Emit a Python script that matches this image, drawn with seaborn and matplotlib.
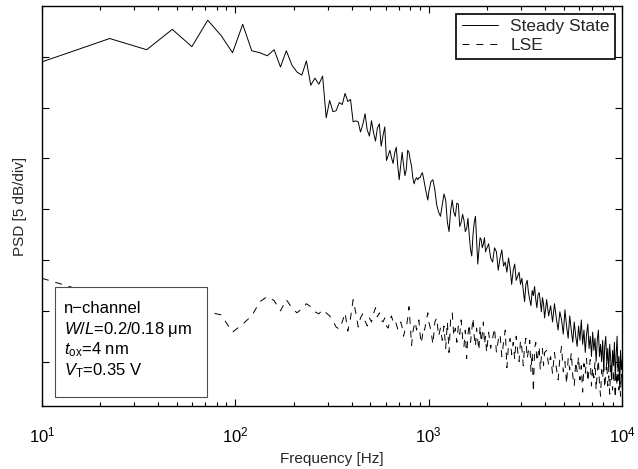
import numpy as np
import pandas as pd
import matplotlib
matplotlib.use("Agg")
import matplotlib.pyplot as plt
import seaborn as sns
from matplotlib.patches import Rectangle
from matplotlib.ticker import LogLocator, NullFormatter, FixedLocator

# --- DATA (y in dB, top of the axes = 0 dB) ---
freq_hz = [
    10, 22.4, 34.8, 47.2, 59.6, 72, 84.4, 96.8, 109.2, 121.6,
    134, 146.4, 158.8, 171.2, 183.6, 196, 208.4, 220.8, 233.2, 245.6,
    258, 270.4, 282.8, 295.2, 307.6, 320, 332.4, 344.8, 357.2, 369.6,
    382, 394.4, 406.8,
    419, 432, 444, 456, 469, 481, 494, 506, 518, 531,
    543, 556, 568, 580, 593, 605, 618, 630, 642, 655,
    667, 680, 692, 704, 717, 729, 742, 754, 766, 779,
    791, 804, 816, 828, 841, 853, 866, 878, 890, 903,
    915, 928, 940, 952, 965, 977, 990, 1002,
    1027, 1052, 1077, 1101, 1126, 1151, 1176, 1200, 1225, 1250,
    1275, 1300, 1324, 1349, 1374, 1399, 1424, 1448, 1473, 1498,
    1523, 1547, 1572, 1597, 1622, 1647, 1671, 1696, 1721, 1746,
    1770, 1795, 1820, 1845, 1870, 1894, 1919, 1944, 1969, 1994,
    2043, 2093, 2142, 2192, 2242, 2291, 2341, 2390, 2440, 2490,
    2539, 2589, 2638, 2688, 2738, 2787, 2837, 2886, 2936, 2986,
    3035, 3085, 3134, 3184, 3234, 3283, 3333, 3382, 3432, 3482,
    3531, 3581, 3630, 3680, 3730, 3779, 3829, 3878, 3928, 3978,
    4077, 4176, 4275, 4374, 4474, 4573, 4672, 4771, 4870, 4970,
    5069, 5168, 5267, 5366, 5466, 5565, 5664, 5763, 5862, 5962,
    6061, 6160, 6259, 6358, 6458, 6557, 6656, 6755, 6854, 6954,
    7053, 7152, 7251, 7350, 7450, 7549, 7648, 7747, 7846, 7946,
    8045, 8144, 8243, 8342, 8442, 8541, 8640, 8739, 8838, 8938,
    9037, 9136, 9235, 9334, 9434, 9533, 9632, 9731, 9830, 9930,
    10029,
]

steady_db = [
    -5.5, -3.2, -4.3, -2.3, -4.0, -1.4, -2.9, -4.6, -1.8, -4.4,
    -4.6, -4.9, -4.3, -6.0, -4.4, -5.8, -6.5, -6.8, -5.4, -7.8,
    -7.1, -7.7, -6.9, -11.0, -9.3, -10.4, -10.3, -9.5, -9.7, -8.6,
    -9.4, -9.2, -11.4,
    -11.3, -11.4, -12.4, -11.7, -10.6, -12.2, -12.8, -11.3, -12.4, -13.3,
    -12.0, -11.6, -13.8, -12.8, -11.9, -15.2, -14.7, -14.2, -14.9, -15.5,
    -14.5, -13.9, -15.7, -17.1, -15.7, -14.4, -15.7, -16.7, -16.1, -14.2,
    -14.4, -15.2, -15.8, -16.9, -17.5, -17.1, -16.9, -17.1, -16.9, -16.9,
    -16.6, -16.4, -16.9, -17.5, -18.1, -18.6, -19.1, -18.3,
    -17.3, -17.1, -18.1, -19.6, -20.3, -20.7, -19.6, -18.5, -19.1, -21.3,
    -22.2, -20.1, -19.1, -20.3, -20.7, -19.4, -19.5, -21.7, -21.3, -20.5,
    -21.1, -22.2, -21.9, -20.9, -22.6, -24.0, -24.6, -22.5, -21.3, -20.7,
    -23.0, -25.4, -24.0, -22.8, -23.0, -23.8, -23.4, -22.8, -24.2, -23.9,
    -23.4, -24.8, -25.2, -23.8, -24.2, -26.0, -24.8, -24.0, -25.6, -25.2,
    -26.2, -24.8, -25.8, -27.4, -26.0, -25.4, -27.0, -26.6, -26.2, -27.4,
    -26.8, -28.0, -29.1, -27.4, -27.0, -28.2, -28.9, -29.5, -28.0, -28.5,
    -27.6, -28.9, -29.7, -28.4, -28.2, -29.1, -30.1, -28.7, -29.3, -30.7,
    -28.9, -30.5, -29.5, -31.1, -29.3, -30.7, -31.9, -30.1, -30.9, -32.3,
    -29.9, -31.5, -32.7, -30.5, -31.9, -33.1, -31.1, -32.5, -33.5, -31.5,
    -32.9, -30.9, -33.3, -31.9, -34.1, -32.3, -31.3, -33.7, -32.5, -34.5,
    -32.1, -33.9, -32.7, -35.0, -32.9, -31.9, -34.5, -33.3, -35.0, -32.9,
    -35.8, -33.5, -32.5, -35.2, -33.7, -36.0, -33.3, -34.8, -36.6, -33.9,
    -35.4, -33.1, -36.8, -34.3, -32.5, -36.0, -34.5, -37.6, -33.9, -35.8,
    -34.8,
]

lse_db = [
    -26.8, -28.8, -29.5, -28.9, -30.1, -30.1, -30.4, -32.1, -31.3, -30.5,
    -29.1, -28.6, -29.0, -30.0, -28.9, -29.7, -30.2, -29.8, -29.3, -29.6,
    -30.1, -30.3, -29.9, -30.2, -30.5, -31.0, -31.6, -31.8, -31.1, -30.2,
    -32.0, -30.7, -28.9,
    -30.1, -31.6, -30.7, -30.3, -31.0, -31.5, -30.7, -31.1, -30.3, -29.7,
    -30.6, -30.2, -30.9, -31.1, -30.7, -31.5, -31.7, -30.9, -30.5, -31.1,
    -30.9, -31.3, -31.8, -31.5, -31.1, -31.6, -32.5, -31.9, -31.7, -30.7,
    -29.6, -31.5, -33.4, -32.1, -31.5, -31.1, -31.9, -31.3, -30.9, -32.3,
    -33.2, -32.5, -31.7, -31.9, -31.3, -30.7, -30.2, -31.1,
    -31.9, -33.3, -31.1, -30.7, -32.5, -31.7, -32.9, -31.5, -33.7, -31.1,
    -34.1, -30.7, -30.2, -32.5, -31.7, -33.1, -31.5, -32.3, -30.9, -32.7,
    -33.5, -31.9, -34.7, -32.3, -31.3, -33.1, -31.9, -30.7, -32.5, -33.5,
    -31.7, -32.9, -33.9, -31.5, -33.1, -32.3, -31.1, -33.3, -32.5, -34.1,
    -32.1, -33.7, -32.7, -31.7, -34.1, -32.9, -32.3, -34.5, -33.1, -31.9,
    -35.6, -33.3, -32.7, -34.3, -33.1, -34.8, -32.5, -33.9, -35.0, -32.9,
    -33.7, -35.4, -33.5, -32.7, -34.7, -33.9, -32.9, -36.0, -34.1, -38.0,
    -33.7, -33.1, -35.0, -34.3, -33.5, -35.8, -34.5, -33.7, -35.4, -34.1,
    -33.9, -35.4, -34.5, -36.2, -34.1, -35.6, -36.8, -34.7, -33.5, -36.0,
    -35.0, -37.2, -34.7, -35.8, -34.1, -36.4, -37.4, -35.0, -36.0, -34.5,
    -36.8, -35.4, -38.0, -35.2, -36.2, -34.7, -37.0, -35.8, -34.8, -37.4,
    -35.6, -36.6, -35.0, -37.8, -36.0, -34.8, -37.2, -38.4, -35.8, -36.6,
    -35.2, -37.6, -36.2, -35.0, -37.4, -36.4, -38.2, -35.4, -36.8, -37.8,
    -35.8, -37.2, -38.6, -36.0, -37.4, -35.2, -37.8, -36.6, -38.4, -36.2,
    -37.2,
]

series_labels = ["Steady State", "LSE"]
y_ticks_db = [-35, -30, -25, -20, -15, -10, -5]
info_lines = [
    "n\u2212channel",
    r"$W/L$=0.2/0.18 μm",
    r"$t_{\mathrm{ox}}$=4 nm",
    r"$V_{\mathrm{T}}$=0.35 V",
]

# --- STYLE ---
sns.set_theme(style="ticks")
plt.rcParams["font.family"] = ["Liberation Sans", "DejaVu Sans"]
plt.rcParams["mathtext.fontset"] = "custom"
plt.rcParams["mathtext.rm"] = "Liberation Sans"
plt.rcParams["mathtext.it"] = "Liberation Sans:italic"
plt.rcParams["mathtext.bf"] = "Liberation Sans:bold"
plt.rcParams["lines.scale_dashes"] = False

fig = plt.figure(figsize=(6.38, 4.69), dpi=100)
ax = fig.add_axes([0.0658, 0.1343, 0.9091, 0.8529])

sns.lineplot(x=freq_hz, y=steady_db, color="black", lw=0.7, label=series_labels[0],
             sort=False, estimator=None, ax=ax)
sns.lineplot(x=freq_hz, y=lse_db, color="black", lw=0.7, label=series_labels[1],
             linestyle=(0, (5, 5)), sort=False, estimator=None, ax=ax)

ax.set_xscale("log")
ax.set_xlim(10, 1e4)
ax.set_ylim(-39.37, 0)
ax.xaxis.set_major_locator(LogLocator(base=10, numticks=10))
ax.xaxis.set_minor_locator(LogLocator(base=10, subs=np.arange(2, 10), numticks=10))
ax.xaxis.set_minor_formatter(NullFormatter())
ax.yaxis.set_major_locator(FixedLocator(y_ticks_db))
ax.set_yticklabels([])

ax.tick_params(which="both", direction="in", top=True, right=True, colors="black",
               labelsize=12, width=0.8)
ax.tick_params(which="major", length=5)
ax.tick_params(which="minor", length=3)
ax.tick_params(axis="x", which="major", pad=14)
for sp in ax.spines.values():
    sp.set_color("black")
    sp.set_linewidth(1.0)

ax.set_xlabel("Frequency [Hz]", fontsize=11, labelpad=5)
ax.set_ylabel("PSD [5 dB/div]", fontsize=11, labelpad=7)

leg = ax.legend(loc="upper right", bbox_to_anchor=(0.988, 0.98), borderaxespad=0,
                frameon=True, fancybox=False, edgecolor="black", framealpha=1,
                fontsize=12.5, handlelength=2.1, handletextpad=0.7, borderpad=0.3,
                labelspacing=0.22)
leg.get_frame().set_linewidth(1.2)

ax.add_patch(Rectangle((0.0224, 0.0225), 0.262, 0.275, transform=ax.transAxes,
                       facecolor="white", edgecolor="0.3", lw=0.8, zorder=3))
for txt, yb in zip(info_lines, [0.2325, 0.18, 0.13, 0.0775]):
    ax.text(0.038, yb, txt, transform=ax.transAxes, fontsize=12, va="baseline",
            ha="left", color="black", zorder=4)

fig.savefig("out.png", dpi=100)
